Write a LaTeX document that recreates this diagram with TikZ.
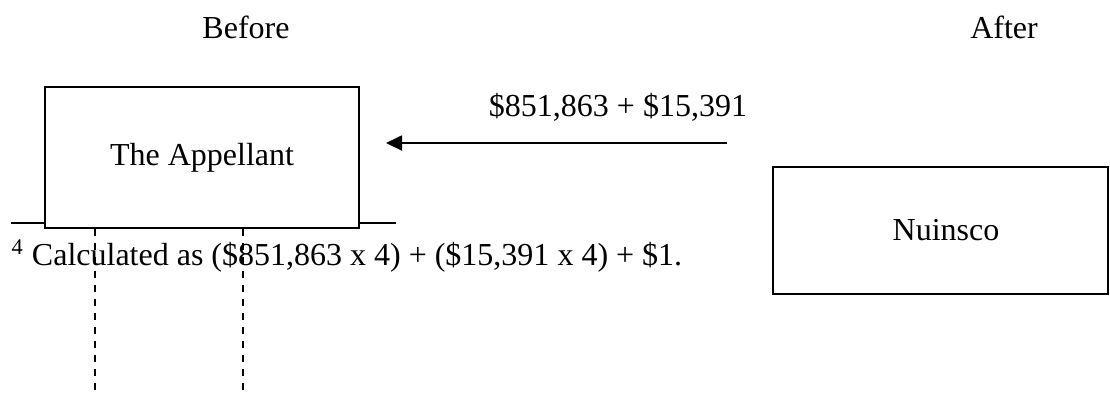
\documentclass[tikz,border=0pt]{standalone}
\usepackage{fontspec}
\setmainfont{Liberation Serif}
\usepackage{tikz}
\usetikzlibrary{arrows.meta, positioning, calc}

\begin{document}
\begin{tikzpicture}[x=0.4pt, y=-0.4pt,
  pbox/.style={rectangle, draw=black, fill=white, line width=0.8pt,
    font=\fontsize{12.8pt}{15pt}\selectfont, text centered, inner sep=0pt},
  arr/.style={-{Triangle[length=6.4pt, width=6pt]}, line width=0.75pt},
  lbl/.style={font=\fontsize{12.8pt}{15pt}\selectfont, inner sep=0pt},
  guide/.style={dash pattern=on 2.8pt off 2.8pt, line width=0.65pt}
]
\useasboundingbox (0,0) rectangle (1110,396);

\node[lbl] at (246, 27) (before) {Before};
\node[lbl] at (1004, 27) (after) {After};

% footnote rule, partly hidden by the box
\draw[line width=0.55pt] (11, 223) -- (396, 223);

\node[pbox, minimum width=125.6pt, minimum height=56.4pt]
  at (202, 157.5) (appl) {The Appellant};
\node[pbox, minimum width=134pt, minimum height=50.8pt]
  at (940.5, 230.5) (nuin) {\hspace*{4.4pt}Nuinsco};

\coordinate (src) at (727, 143);
\coordinate (dst) at (386, 143);
\draw[arr] (src) -- (dst);
\node[lbl] at (618, 107) (amt) {\$851,863 + \$15,391};

\node[lbl, anchor=west] at (11, 256) (note)
  {\textsuperscript{4} Calculated as (\$851,863 x 4) + (\$15,391 x 4) + \$1.};

\coordinate (ga) at (95, 396);
\coordinate (gb) at (243, 396);
\draw[guide] (appl.south west -| ga) -- (ga);
\draw[guide] (appl.south west -| gb) -- (gb);
\end{tikzpicture}
\end{document}
